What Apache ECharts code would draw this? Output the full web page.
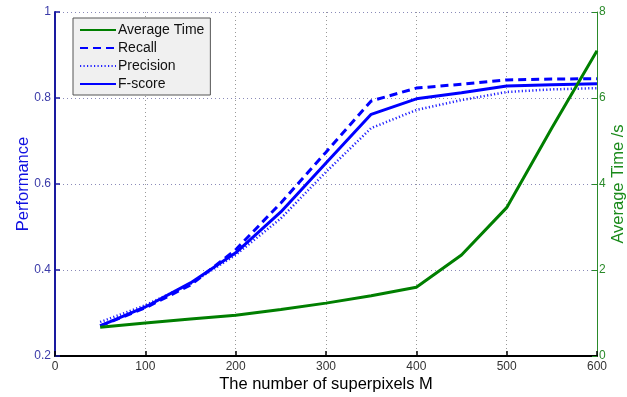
<!DOCTYPE html>
<html>
<head>
<meta charset="utf-8">
<script src="https://cdn.jsdelivr.net/npm/echarts@6/dist/echarts.min.js"></script>
<style>html,body{margin:0;padding:0;background:#fff;overflow:hidden;width:100%;height:100%;}#c{width:100vw;height:100vh;}</style>
</head>
<body>
<div id="c"></div>
<script>
const xValues = [50, 100, 150, 200, 250, 300, 350, 400, 450, 500, 550, 600];
const avgTime = [0.67, 0.77, 0.86, 0.95, 1.08, 1.23, 1.4, 1.6, 2.35, 3.45, 5.3, 7.1];
const recall = [0.27, 0.312, 0.365, 0.447, 0.556, 0.674, 0.793, 0.823, 0.832, 0.842, 0.844, 0.845];
const precision = [0.279, 0.318, 0.368, 0.435, 0.52, 0.628, 0.73, 0.772, 0.795, 0.814, 0.82, 0.823];
const fscore = [0.27, 0.314, 0.37, 0.44, 0.535, 0.649, 0.762, 0.798, 0.812, 0.828, 0.831, 0.833];
const perfTicks = [0.2, 0.4, 0.6, 0.8, 1];
const timeTicks = [0, 2, 4, 6, 8];

const pair = (ys) => xValues.map((x, i) => [x, ys[i]]);
const FONT = 'Liberation Sans, Arial, sans-serif';
const chart = echarts.init(document.getElementById('c'));
chart.setOption({
  animation: false,
  textStyle: { fontFamily: FONT },
  grid: { left: 55, right: 30, top: 12, bottom: 41, containLabel: false, outerBoundsMode: 'none' },
  legend: {
    orient: 'vertical', left: 73, top: 18,
    data: ['Average Time', 'Recall', 'Precision', 'F-score'],
    backgroundColor: '#f0f0f0', borderColor: '#555', borderWidth: 1,
    padding: [5, 6, 4, 6], itemGap: 4, itemWidth: 36, itemHeight: 14,
    itemStyle: { opacity: 0 },
    textStyle: { fontFamily: FONT, fontSize: 14, color: '#111', padding: [0, 0, 0, -3] }
  },
  xAxis: {
    type: 'value', min: 0, max: 600, interval: 100,
    name: 'The number of superpixels M', nameLocation: 'middle', nameGap: 20, nameMoveOverlap: false,
    nameTextStyle: { fontSize: 16.5, color: '#000', fontFamily: FONT },
    axisLine: { lineStyle: { color: '#000', width: 2 } },
    axisTick: { inside: true, length: 5, lineStyle: { color: '#000', width: 1.5 } },
    axisLabel: { fontSize: 12, color: '#333', margin: 5 },
    splitLine: { show: true, lineStyle: { color: '#999', type: [1, 3], width: 1 } }
  },
  yAxis: [{
    type: 'value', min: 0.2, max: 1, interval: 0.2, position: 'left',
    name: 'Performance', nameLocation: 'middle', nameGap: 23, nameRotate: 90, nameMoveOverlap: false,
    nameTextStyle: { fontSize: 16.5, color: '#1010e0', fontFamily: FONT },
    axisLine: { show: true, lineStyle: { color: '#1a1aa0', width: 2 } },
    axisTick: { show: true, inside: true, length: 5, lineStyle: { color: '#1a1aa0', width: 1.5 } },
    axisLabel: { fontSize: 12, color: '#3a3aa8', margin: 4,
      formatter: (v) => { const t = perfTicks.find(p => Math.abs(p - v) < 1e-6); return t === undefined ? '' : String(t); } },
    splitLine: { show: true, lineStyle: { color: '#8a8ab8', type: [1, 3], width: 1 } }
  }, {
    type: 'value', min: 0, max: 8, interval: 2, position: 'right',
    name: 'Average Time /s', nameLocation: 'middle', nameGap: 13, nameRotate: 90, nameMoveOverlap: false,
    nameTextStyle: { fontSize: 16.5, color: '#1a8a1a', fontFamily: FONT },
    axisLine: { show: true, lineStyle: { color: '#2a8a2a', width: 1 } },
    axisTick: { show: true, inside: true, length: 5, lineStyle: { color: '#2a8a2a', width: 1 } },
    axisLabel: { fontSize: 12, color: '#2a8a2a', margin: 2,
      formatter: (v) => timeTicks.includes(v) ? String(v) : '' },
    splitLine: { show: false }
  }],
  series: [
    { name: 'Average Time', type: 'line', yAxisIndex: 1, data: pair(avgTime), symbol: 'none',
      color: '#007f00', lineStyle: { color: '#007f00', width: 3 }, z: 5 },
    { name: 'Recall', type: 'line', yAxisIndex: 0, data: pair(recall), symbol: 'none',
      color: '#0000ff', lineStyle: { color: '#0000ff', width: 3, type: [8, 5] }, z: 4 },
    { name: 'Precision', type: 'line', yAxisIndex: 0, data: pair(precision), symbol: 'none',
      color: '#0000ff', lineStyle: { color: '#2020ff', width: 2.5, type: [1.2, 2.3] }, z: 3 },
    { name: 'F-score', type: 'line', yAxisIndex: 0, data: pair(fscore), symbol: 'none',
      color: '#0000ff', lineStyle: { color: '#0000ff', width: 3 }, z: 4 }
  ]
});
</script>
</body>
</html>
